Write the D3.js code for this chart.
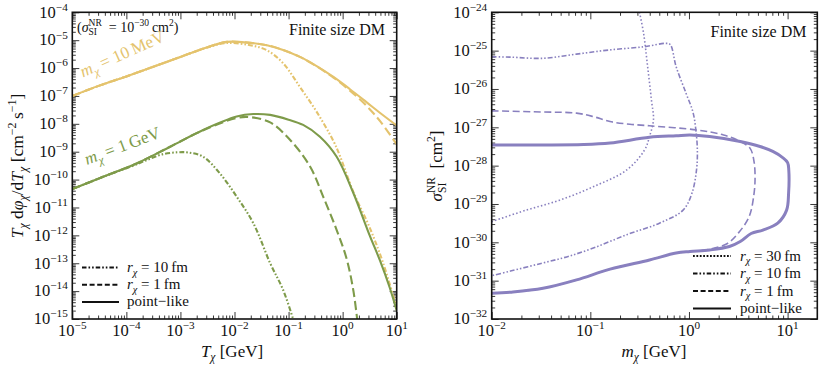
<!DOCTYPE html>
<html><head><meta charset="utf-8">
<script src="https://cdn.jsdelivr.net/npm/d3@7"></script>
<style>
body{margin:0;background:#fff}
svg{display:block}
svg text{font-family:"Liberation Serif",serif !important;fill:#111;white-space:pre}
</style>
</head><body>
<svg id="chart" width="822" height="367" font-family="Liberation Serif"></svg>
<script>
// ---------------- DATA (log10 values) ----------------
// Left panel: x = log10(T_chi / GeV), y = log10(T dphi/dT / cm^-2 s^-1)
const leftXTickExps = [-5, -4, -3, -2, -1, 0, 1];
const leftYTickExps = [-15, -14, -13, -12, -11, -10, -9, -8, -7, -6, -5, -4];

const yellowPoint = [[-5,-7.0],[-4.5,-6.63],[-4,-6.3],[-3.5,-5.95],[-3,-5.6],[-2.5,-5.25],[-2.14,-5.06],
  [-1.8,-5.08],[-1.4,-5.18],[-1.1,-5.35],[-0.79,-5.6],[-0.48,-5.93],[-0.17,-6.32],[0.13,-6.75],[0.44,-7.22],[0.7,-7.62],[1.0,-8.06]];
const yellow1fm = [[-5,-7.0],[-4.5,-6.63],[-4,-6.3],[-3.5,-5.95],[-3,-5.6],[-2.5,-5.25],[-2.14,-5.06],
  [-1.8,-5.08],[-1.4,-5.18],[-1.1,-5.35],[-0.79,-5.6],[-0.48,-5.94],[-0.17,-6.34],[0.13,-6.8],[0.44,-7.35],[0.7,-7.92],[1.0,-8.74]];
const yellow10fm = [[-5,-7.0],[-4.5,-6.63],[-4,-6.3],[-3.5,-5.95],[-3,-5.6],[-2.5,-5.26],[-2.14,-5.1],
  [-1.71,-5.18],[-1.4,-5.36],[-1.1,-5.83],[-0.79,-6.68],[-0.48,-7.57],[-0.17,-8.62],[-0.05,-9.15],[0.2,-10.45],[0.5,-11.72],[0.75,-13.0],[1.0,-14.6]];

const greenPoint = [[-5,-10.34],[-4.43,-9.9],[-3.81,-9.42],[-3.19,-8.82],[-2.58,-8.22],[-1.96,-7.74],[-1.65,-7.65],
  [-1.34,-7.68],[-1.0,-7.85],[-0.73,-8.04],[-0.42,-8.46],[-0.11,-9.18],[0.2,-10.49],[0.5,-12.0],[0.69,-12.9],[0.87,-13.87],[1.0,-14.7]];
const green1fm = [[-5,-10.34],[-4.43,-9.9],[-3.81,-9.42],[-3.19,-8.82],[-2.58,-8.23],[-1.96,-7.79],[-1.71,-7.76],
  [-1.34,-7.95],[-0.97,-8.58],[-0.6,-9.54],[-0.36,-10.61],[-0.11,-11.81],[0.075,-12.85],[0.2,-14.0],[0.28,-15.2]];
const green10fm = [[-5,-10.34],[-4.43,-9.9],[-3.9,-9.52],[-3.62,-9.3],[-3.35,-9.1],[-3.05,-9.02],[-2.85,-9.03],
  [-2.58,-9.18],[-2.27,-9.78],[-1.96,-10.61],[-1.65,-11.57],[-1.34,-13.0],[-1.1,-13.96],[-0.9,-15.1]];

// Right panel: x = log10(m_chi / GeV), y = log10(sigma / cm^2)
const rightXTickExps = [-2, -1, 0, 1];
const rightYTickExps = [-32, -31, -30, -29, -28, -27, -26, -25, -24];

const purplePoint = [[-2,-27.46],[-1.5,-27.46],[-1.07,-27.45],[-0.8,-27.41],[-0.4,-27.26],[-0.13,-27.22],[0.01,-27.2],
  [0.21,-27.24],[0.52,-27.37],[0.72,-27.5],[0.85,-27.63],[0.95,-27.79],[1.0,-27.92],[1.012,-28.12],[1.01,-28.72],
  [0.99,-29.16],[0.9,-29.5],[0.75,-29.68],[0.63,-29.77],[0.52,-29.98],[0.41,-30.11],[0.21,-30.2],[0.01,-30.24],
  [-0.13,-30.28],[-0.4,-30.46],[-0.8,-30.7],[-1.14,-30.98],[-1.48,-31.2],[-1.81,-31.3],[-2,-31.33]];
const purple1fm = [[-2,-26.57],[-1.5,-26.6],[-1.14,-26.63],[-0.97,-26.72],[-0.8,-26.85],[-0.6,-26.92],[-0.4,-26.96],
  [0.08,-27.07],[0.35,-27.2],[0.52,-27.37],[0.62,-27.55],[0.66,-27.9],[0.67,-28.3],[0.66,-28.72],[0.61,-29.33],
  [0.5,-29.76],[0.39,-30.03],[0.21,-30.18],[0.01,-30.24],[-0.13,-30.28],[-0.4,-30.46],[-0.8,-30.7],[-1.14,-30.98],
  [-1.48,-31.2],[-1.81,-31.3],[-2,-31.33]];
const purple10fm = [[-2,-25.16],[-1.81,-25.17],[-1.48,-25.2],[-1.14,-25.09],[-0.8,-24.98],[-0.46,-24.9],[-0.23,-24.81],
  [-0.19,-24.84],[-0.13,-25.42],[-0.03,-26.11],[0.04,-26.6],[0.07,-27.07],[0.085,-27.6],[0.077,-28.1],[0.03,-28.72],
  [-0.06,-29.16],[-0.3,-29.5],[-0.63,-29.8],[-0.97,-30.15],[-1.24,-30.38],[-1.5,-30.55],[-1.81,-30.75],[-2,-30.87]];
const purple30fm = [[-0.51,-23.9],[-0.46,-24.55],[-0.42,-25.4],[-0.38,-26.3],[-0.36,-26.8],[-0.4,-27.24],[-0.45,-27.59],
  [-0.63,-28.11],[-0.97,-28.55],[-1.31,-28.9],[-1.65,-29.16],[-2,-29.46]];

const leftLegendLabels = [["10","dd"],["1","dash"],[null,"solid"]];
const rightLegendLabels = [["30","dot"],["10","dd"],["1","dash"],[null,"solid"]];

// ---------------- STYLE ----------------
const FONT = "Liberation Serif";
const YELLOW = "#E4C36D", GREEN = "#7E9B4A", PURPLE = "#8980BF";
const DASH = {solid:null, dash:"9,4", dd:"5,2,1.6,2,1.6,2", dot:"1.6,2"};
const RDASH = {solid:null, dash:"7,3.5", dd:"5,2,1.5,2,1.5,2", dot:"1.5,2.2"};

const svg = d3.select("#chart");

function rich(g, x, y, parts, size, anchor, rot, color) {
  const t = g.append("text").attr("x", x).attr("y", y).attr("font-size", size)
    .attr("font-family", FONT).attr("text-anchor", anchor || "start");
  if (color) t.style("fill", color);
  if (rot) t.attr("transform", `rotate(${rot},${x},${y})`);
  let cur = 0;
  for (const p of parts) {
    const [txt, kind, ital, stackSup] = p;
    let off = 0, fs = size;
    if (kind === "sup") { off = -0.42 * size; fs = 0.68 * size; }
    else if (kind === "sub") { off = 0.24 * size; fs = 0.68 * size; }
    const ts = t.append("tspan").attr("dy", (off - cur).toFixed(2)).attr("font-size", fs).text(txt);
    if (ital) ts.attr("font-style", "italic");
    cur = off;
    if (stackSup) {
      const L = ts.node().getComputedTextLength();
      const off2 = -0.42 * size;
      t.append("tspan").attr("dx", -L).attr("dy", (off2 - cur).toFixed(2)).attr("font-size", fs).text(stackSup);
      cur = off2;
    }
  }
  return t;
}
const sup = e => (e < 0 ? "\u2212" + Math.abs(e) : "" + e);

function minorValues(lo, hi) {
  const out = [];
  for (let e = lo; e < hi; e++) for (let k = 2; k <= 9; k++) out.push(k * Math.pow(10, e));
  return out;
}

function panel(cfg) {
  const {x0, x1, y0, y1, xDom, yDom, xExps, yExps, id} = cfg;
  const x = d3.scaleLog().domain(xDom).range([x0, x1]);
  const y = d3.scaleLog().domain(yDom).range([y1, y0]);
  const g = svg.append("g");
  svg.append("defs").append("clipPath").attr("id", id).append("rect")
    .attr("x", x0).attr("y", y0).attr("width", x1 - x0).attr("height", y1 - y0);

  const xMaj = xExps.map(e => Math.pow(10, e));
  const yMaj = yExps.map(e => Math.pow(10, e));
  const xMin = minorValues(Math.floor(Math.log10(xDom[0])), Math.ceil(Math.log10(xDom[1]))).filter(v => v > xDom[0]*1.0001 && v < xDom[1]*0.9999);
  const yMin = minorValues(Math.round(Math.log10(yDom[0])), Math.round(Math.log10(yDom[1])));

  const styleAxis = a => { a.select(".domain").remove(); a.selectAll("line").attr("stroke", "#222").attr("stroke-width", 0.9); };
  [[d3.axisBottom, y1], [d3.axisTop, y0]].forEach(([fn, ty]) => {
    g.append("g").attr("transform", `translate(0,${ty})`).call(fn(x).tickValues(xMaj).tickSize(-7).tickFormat("")).call(styleAxis);
    g.append("g").attr("transform", `translate(0,${ty})`).call(fn(x).tickValues(xMin).tickSize(-3.5).tickFormat("")).call(styleAxis);
  });
  [[d3.axisLeft, x0], [d3.axisRight, x1]].forEach(([fn, tx]) => {
    g.append("g").attr("transform", `translate(${tx},0)`).call(fn(y).tickValues(yMaj).tickSize(-7).tickFormat("")).call(styleAxis);
    g.append("g").attr("transform", `translate(${tx},0)`).call(fn(y).tickValues(yMin).tickSize(-3.5).tickFormat("")).call(styleAxis);
  });
  xExps.forEach(e => rich(g, x(Math.pow(10, e)), y1 + 16.5, [["10"], [sup(e), "sup"]], 16.5, "middle"));
  yExps.forEach(e => rich(g, x0 - 4.5, y(Math.pow(10, e)) + 5.3, [["10"], [sup(e), "sup"]], 16.5, "end"));

  const plot = svg.append("g").attr("clip-path", `url(#${id})`);
  return {x, y, g, plot};
}

// ---------------- LEFT PANEL ----------------
const L = panel({x0: 72.3, x1: 396.7, y0: 12.3, y1: 319, xDom: [1e-5, 10], yDom: [1e-15, 1e-4],
  xExps: leftXTickExps, yExps: leftYTickExps, id: "clipL"});
const lineL = d3.line().x(d => L.x(Math.pow(10, d[0]))).y(d => L.y(Math.pow(10, d[1]))).curve(d3.curveCatmullRom.alpha(0.5));
[[yellow10fm, YELLOW, "dd"], [yellow1fm, YELLOW, "dash"], [yellowPoint, YELLOW, "solid"],
 [green10fm, GREEN, "dd"], [green1fm, GREEN, "dash"], [greenPoint, GREEN, "solid"]].forEach(([d, c, s]) => {
  L.plot.append("path").attr("d", lineL(d)).attr("fill", "none").attr("stroke", c).attr("stroke-width", 2.1)
    .attr("stroke-dasharray", DASH[s]);
});

// ---------------- RIGHT PANEL ----------------
const R = panel({x0: 491.7, x1: 817.3, y0: 12.3, y1: 319, xDom: [1e-2, 20], yDom: [1e-32, 1e-24],
  xExps: rightXTickExps, yExps: rightYTickExps, id: "clipR"});
const lineR = d3.line().x(d => R.x(Math.pow(10, d[0]))).y(d => R.y(Math.pow(10, d[1]))).curve(d3.curveCatmullRom.alpha(0.5));
[[purple30fm, "dot", 1.6], [purple10fm, "dd", 1.6], [purple1fm, "dash", 1.6], [purplePoint, "solid", 3]].forEach(([d, s, w]) => {
  R.plot.append("path").attr("d", lineR(d)).attr("fill", "none").attr("stroke", PURPLE).attr("stroke-width", w)
    .attr("stroke-dasharray", RDASH[s]).attr("stroke-linejoin", "round");
});

// frames
[[72.3, 396.7], [491.7, 817.3]].forEach(([a, b]) => {
  svg.append("rect").attr("x", a).attr("y", 12.3).attr("width", b - a).attr("height", 319 - 12.3)
    .attr("fill", "none").attr("stroke", "#111").attr("stroke-width", 1.6);
});

// ---------------- LEGENDS ----------------
function legend(rows, lx0, lx1, ty0, dy, tx, dashMap) {
  rows.forEach(([r, s], i) => {
    const yy = ty0 + i * dy;
    svg.append("line").attr("x1", lx0).attr("x2", lx1).attr("y1", yy).attr("y2", yy)
      .attr("stroke", "#111").attr("stroke-width", 2).attr("stroke-dasharray", dashMap[s]);
    if (r) rich(svg, tx, yy + 4.5, [["r", "n", true], ["\u03C7", "sub", true], [" = " + r + "\u2009fm"]], 15, "start");
    else rich(svg, tx, yy + 4.5, [["point\u2212like"]], 15, "start");
  });
}
legend(leftLegendLabels, 82, 119, 267.5, 17.2, 127, {solid:null, dash:"5,2.6", dd:"4.5,2,1.6,2,1.6,2"});
legend(rightLegendLabels, 693, 731, 256, 17.5, 740, {solid:null, dash:"5,2.6", dd:"4.5,2,1.6,2,1.6,2", dot:"1.8,1.6"});

// ---------------- ANNOTATIONS ----------------
rich(svg, 385, 35, [["Finite size DM"]], 16, "end");
rich(svg, 806.5, 37, [["Finite size DM"]], 16, "end");
rich(svg, 77, 32, [["("], ["\u03C3", "n", true], ["SI", "sub", false, "NR"], ["  = 10"], ["\u221230", "sup"], ["\u2009cm"], ["2", "sup"], [")"]], 14, "start");
rich(svg, 83, 77.5, [["m", "n", true], ["\u03C7", "sub", true], [" = 10\u2009MeV"]], 17, "start", -24, YELLOW);
rich(svg, 87, 165, [["m", "n", true], ["\u03C7", "sub", true], [" = 1\u2009GeV"]], 17, "start", -20.5, GREEN);

// axis titles
rich(svg, 232, 357, [["T", "n", true], ["\u03C7", "sub", true], [" [GeV]"]], 17, "middle");
rich(svg, 654, 357, [["m", "n", true], ["\u03C7", "sub", true], [" [GeV]"]], 17, "middle");
rich(svg, 23, 166, [["T", "n", true], ["\u03C7", "sub", true], [" d"], ["\u03C6", "n", true], ["\u03C7", "sub", true],
  ["/d"], ["T", "n", true], ["\u03C7", "sub", true], [" [cm"], ["\u22122", "sup"], ["\u2009s"], ["\u22121", "sup"], ["]"]], 17.5, "middle", -90);
rich(svg, 442, 166, [["\u03C3", "n", true], ["SI", "sub", false, "NR"], ["  [cm"], ["2", "sup"], ["]"]], 17, "middle", -90);
</script>
</body></html>
